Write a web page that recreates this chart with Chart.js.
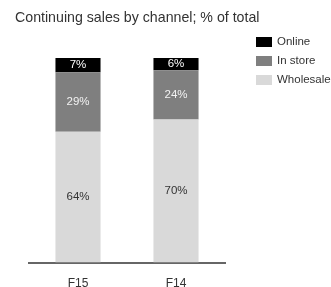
<!DOCTYPE html>
<html>
<head>
<meta charset="utf-8">
<script src="https://cdn.jsdelivr.net/npm/chart.js@4.4.0/dist/chart.umd.min.js"></script>
<style>
  html, body { margin: 0; padding: 0; background: #fff; overflow: hidden; }
  #wrap { position: relative; width: 331px; height: 287px; font-family: "Liberation Sans", Arial, sans-serif; }
  #titulo { position: absolute; left: 15px; top: 9px; font-size: 14.2px; color: #333; white-space: nowrap; }
  #leyenda { position: absolute; left: 256px; top: 37px; font-size: 11.5px; color: #333; white-space: nowrap; }
  .item { height: 10px; margin-bottom: 9px; position: relative; }
  .caja { position: absolute; left: 0; top: 0; width: 16px; height: 10px; }
  .txt { position: absolute; left: 21px; top: -2px; line-height: 13px; }
  canvas { position: absolute; left: 0; top: 0; }
</style>
</head>
<body>
<div id="wrap">
  <canvas id="grafico" width="331" height="287"></canvas>
  <div id="titulo">Continuing sales by channel; % of total</div>
  <div id="leyenda"></div>
</div>
<script>
// Datos del gráfico
const categorias = ['F15', 'F14'];
const online = [7, 6];
const enTienda = [29, 24];
const mayorista = [64, 70];

const series = [
    { nombre: 'Wholesale', datos: mayorista, color: '#d9d9d9', texto: '#333333' },
    { nombre: 'In store', datos: enTienda, color: '#7f7f7f', texto: '#f2f2f2' },
    { nombre: 'Online', datos: online, color: '#000000', texto: '#ffffff' }
];

// Leyenda en HTML (orden de arriba a abajo)
const leyenda = document.getElementById('leyenda');
[...series].reverse().forEach(s => {
    const div = document.createElement('div');
    div.className = 'item';
    div.innerHTML = `<span class="caja" style="background:${s.color}"></span><span class="txt">${s.nombre}</span>`;
    leyenda.appendChild(div);
});

// Plugin para escribir los porcentajes dentro de cada segmento
const etiquetas = {
    id: 'etiquetas',
    afterDatasetsDraw(chart) {
        const ctx = chart.ctx;
        ctx.save();
        ctx.font = '11.5px "Liberation Sans", Arial, sans-serif';
        ctx.textAlign = 'center';
        ctx.textBaseline = 'middle';
        chart.data.datasets.forEach((ds, i) => {
            chart.getDatasetMeta(i).data.forEach((barra, j) => {
                ctx.fillStyle = series[i].texto;
                const y = (barra.y + barra.base) / 2;
                ctx.fillText(ds.data[j] + '%', barra.x, y);
            });
        });
        ctx.restore();
    }
};

new Chart(document.getElementById('grafico'), {
    type: 'bar',
    data: {
        labels: categorias,
        datasets: series.map(s => ({
            label: s.nombre,
            data: s.datos,
            backgroundColor: s.color,
            borderWidth: 0,
            barPercentage: 0.92,
            categoryPercentage: 0.5
        }))
    },
    options: {
        responsive: false,
        animation: false,
        layout: { padding: { left: 29, right: 106, top: 58, bottom: -10 } },
        plugins: {
            legend: { display: false },
            tooltip: { enabled: false }
        },
        scales: {
            x: {
                stacked: true,
                grid: { display: false },
                border: { display: true, color: '#666666', width: 2 },
                ticks: { color: '#333', padding: 6, font: { size: 12, family: '"Liberation Sans", Arial, sans-serif' } }
            },
            y: {
                stacked: true,
                display: false,
                min: 0,
                max: 100
            }
        }
    },
    plugins: [etiquetas]
});
</script>
</body>
</html>
